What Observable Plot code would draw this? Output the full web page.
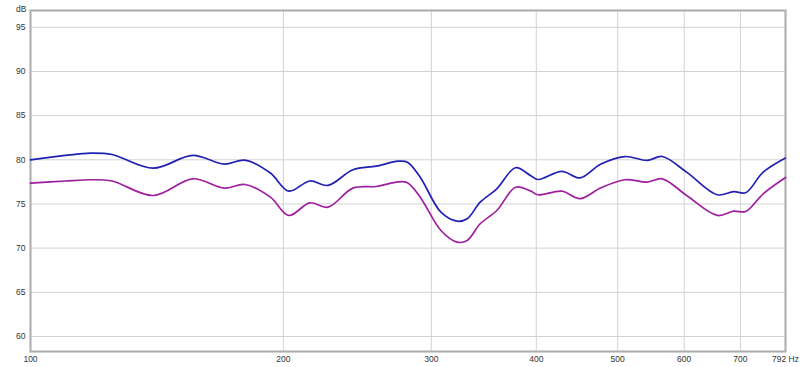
<!DOCTYPE html>
<html>
<head>
<meta charset="utf-8">
<script src="https://cdn.jsdelivr.net/npm/d3@7"></script>
<script src="https://cdn.jsdelivr.net/npm/@observablehq/plot@0.6"></script>
<style>
  html, body { margin: 0; padding: 0; background: #fff; }
  svg { display: block; }
</style>
</head>
<body>
<div id="chart"></div>
<script>
// Frequencies (Hz) and levels (dB)
const freqHz = [100, 110, 118, 125, 140, 156, 170, 180, 193, 203, 215, 226, 242, 258, 274, 281, 291, 308, 322, 331, 343, 359, 378, 394, 402, 429, 451, 477, 510, 542, 565, 604, 657, 687, 710, 745, 792];
const blueDb = [80.0, 80.5, 80.75, 80.6, 79.05, 80.5, 79.5, 79.96, 78.5, 76.45, 77.6, 77.1, 78.87, 79.28, 79.84, 79.73, 78.03, 74.07, 73.05, 73.33, 75.2, 76.72, 79.1, 78.2, 77.77, 78.7, 77.95, 79.5, 80.37, 79.93, 80.37, 78.6, 76.04, 76.4, 76.27, 78.6, 80.2];
const magentaDb = [77.35, 77.6, 77.74, 77.6, 75.96, 77.85, 76.8, 77.2, 75.77, 73.7, 75.13, 74.64, 76.79, 76.98, 77.5, 77.4, 75.77, 72.0, 70.68, 70.87, 72.76, 74.26, 76.9, 76.45, 76.04, 76.45, 75.6, 76.8, 77.74, 77.47, 77.85, 75.96, 73.7, 74.19, 74.15, 76.15, 78.0];

const xTicks = [100, 200, 300, 400, 500, 600, 700, 792];
const xTickLabels = ["100", "200", "300", "400", "500", "600", "700", "792 Hz"];
const yTicks = [60, 65, 70, 75, 80, 85, 90, 95];
const seriesColors = ["#2020b4", "#a01ea0"];

const blue = freqHz.map((f, i) => ({f, db: blueDb[i]}));
const magenta = freqHz.map((f, i) => ({f, db: magentaDb[i]}));
const xLabelOf = new Map(xTicks.map((t, i) => [t, xTickLabels[i]]));

const chart = Plot.plot({
  width: 800,
  height: 367,
  marginLeft: 30,
  marginRight: 15,
  marginTop: 10,
  marginBottom: 16,
  style: {fontFamily: "'Liberation Sans', Arial, sans-serif", fontSize: "8.5px", color: "#333", background: "#fff", overflow: "visible"},
  x: {type: "log", domain: [100, 792]},
  y: {domain: [58.3, 96.9]},
  marks: [
    Plot.gridY(yTicks, {stroke: "#d2d2d2", strokeOpacity: 1}),
    Plot.gridX(xTicks.slice(1, -1), {stroke: "#d2d2d2", strokeOpacity: 1}),
    Plot.frame({stroke: "#c4c4c4", strokeWidth: 2.5}),
    Plot.frame({stroke: "#a8a8a8", strokeWidth: 0.8}),
    Plot.axisX(xTicks, {tickSize: 0, tickPadding: 4, tickFormat: (d) => xLabelOf.get(d), label: null, fill: "#333"}),
    Plot.axisY(yTicks, {tickSize: 0, tickPadding: 5, label: null, fill: "#333"}),
    Plot.text(["dB"], {frameAnchor: "top-left", dx: -4, dy: -5, textAnchor: "end", fill: "#333"}),
    Plot.line(magenta, {x: "f", y: "db", stroke: seriesColors[1], strokeWidth: 1.7, curve: "catmull-rom"}),
    Plot.line(blue, {x: "f", y: "db", stroke: seriesColors[0], strokeWidth: 1.7, curve: "catmull-rom"})
  ]
});
document.getElementById("chart").append(chart);
</script>
</body>
</html>
